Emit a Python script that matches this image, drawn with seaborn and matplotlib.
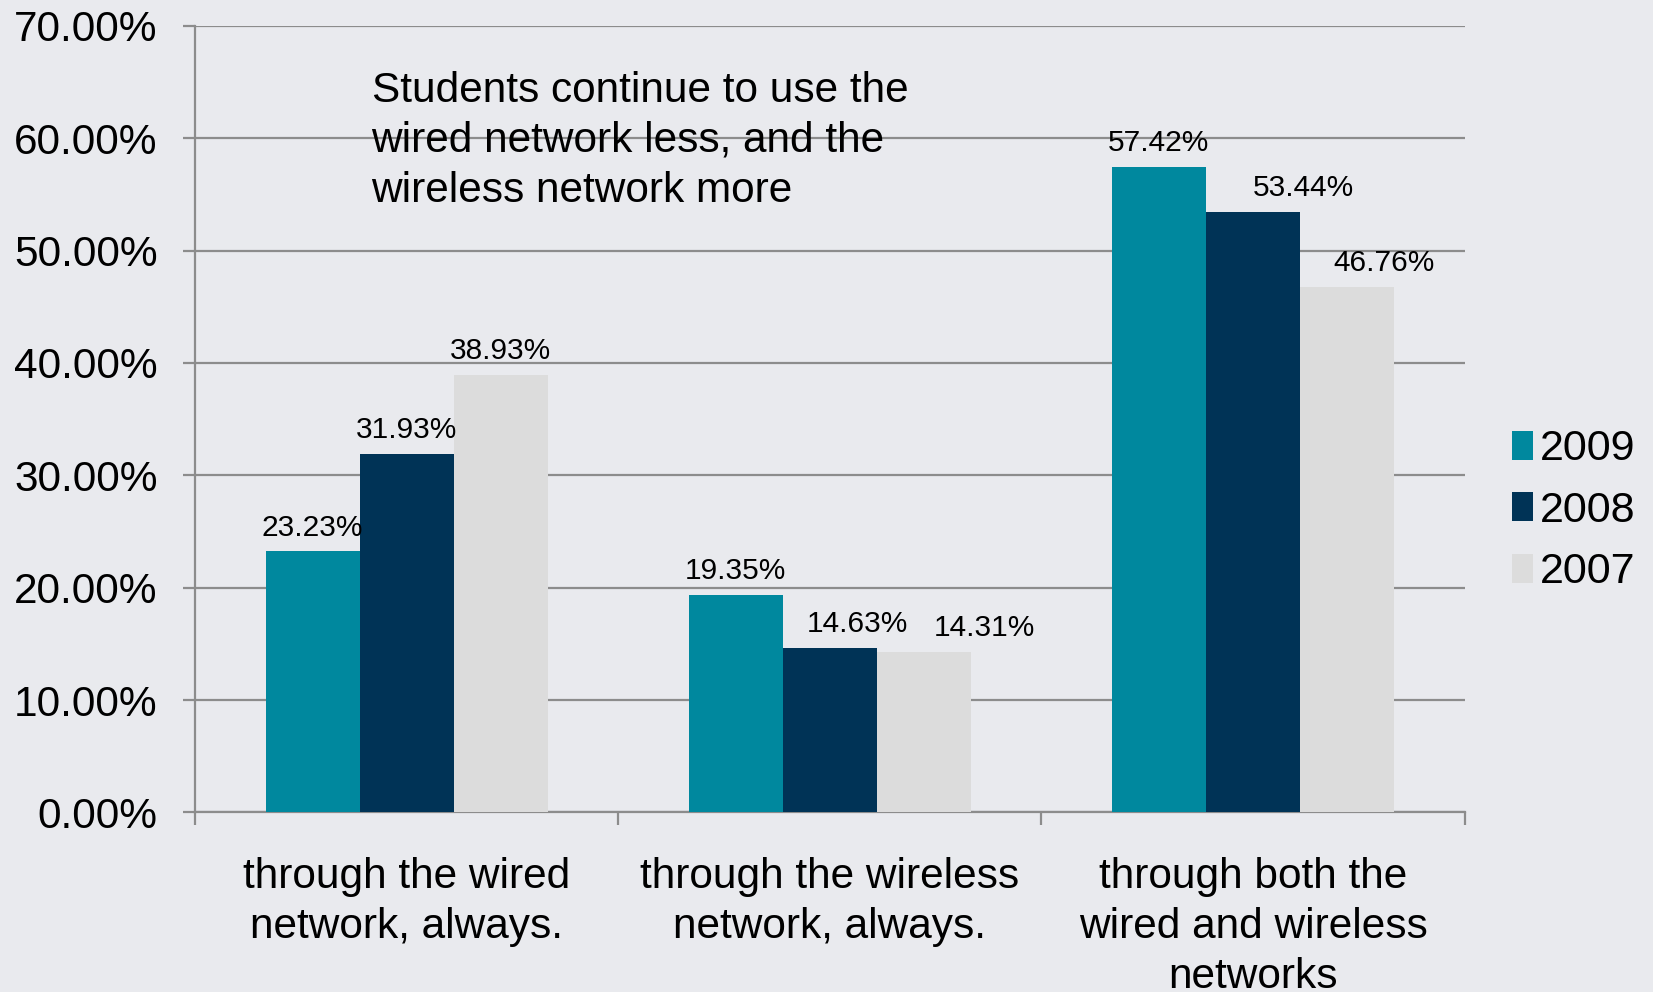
import numpy as np
import pandas as pd
import seaborn as sns
import matplotlib.pyplot as plt
from matplotlib.patches import Patch
from matplotlib.ticker import FixedLocator

categories = [
    "through the wired\nnetwork, always.",
    "through the wireless\nnetwork, always.",
    "through both the\nwired and wireless\nnetworks",
]
years = ["2009", "2008", "2007"]
values_2009 = [23.23, 19.35, 57.42]
values_2008 = [31.93, 14.63, 53.44]
values_2007 = [38.93, 14.31, 46.76]
y_ticks = [0, 10, 20, 30, 40, 50, 60, 70]
note = "Students continue to use the\nwired network less, and the\nwireless network more"

colors = {"2009": "#00889E", "2008": "#003356", "2007": "#DCDCDC"}
bg = "#E9EAEE"
grid_c = "#8C8C8C"

rows = []
for yr, vals in zip(years, [values_2009, values_2008, values_2007]):
    for cat, v in zip(categories, vals):
        rows.append({"category": cat, "year": yr, "value": v})
df = pd.DataFrame(rows)

sns.set_theme(style="white")
plt.rcParams["font.family"] = ["Liberation Sans", "DejaVu Sans"]
plt.rcParams.update({"text.color": "black", "xtick.color": grid_c,
                     "ytick.color": grid_c, "xtick.labelcolor": "black",
                     "ytick.labelcolor": "black"})

fig = plt.figure(figsize=(16.53, 9.92), dpi=100, facecolor=bg)
ax = fig.add_axes([0.118, 0.181, 0.768, 0.793])
ax.set_facecolor(bg)

sns.barplot(data=df, x="category", y="value", hue="year", hue_order=years,
            order=categories, palette=colors, width=0.667, saturation=1,
            errorbar=None, legend=False, linewidth=0, ax=ax, zorder=3)

ax.set_ylim(0, 70)
ax.set_xlim(-0.5, 2.5)
ax.yaxis.set_major_locator(FixedLocator(y_ticks))
ax.set_yticklabels([f"{t:.2f}%" for t in y_ticks], fontsize=30.5)
ax.grid(axis="y", color=grid_c, linewidth=1.6, zorder=0)
ax.tick_params(axis="y", left=True, length=9, width=1.6, color=grid_c, pad=18)

ax.set_xticks(range(len(categories)))
ax.set_xticklabels(categories, fontsize=30.5)
ax.tick_params(axis="x", which="major", bottom=True, length=0, pad=32)
ax.set_xticks([-0.5, 0.5, 1.5, 2.5], minor=True)
ax.tick_params(axis="x", which="minor", bottom=True, length=9, width=1.6,
               color=grid_c, direction="out")
for lab in ax.get_xticklabels():
    lab.set_linespacing(1.33)

for side in ["top", "right"]:
    ax.spines[side].set_visible(False)
for side in ["left", "bottom"]:
    ax.spines[side].set_color(grid_c)
    ax.spines[side].set_linewidth(1.6)
ax.set_xlabel("")
ax.set_ylabel("")

# value labels, nudged right where neighbouring labels would collide
nudges = {(1, 1): 0.065, (1, 2): 0.144, (2, 1): 0.12, (2, 2): 0.087}
for hi, (cont, vals) in enumerate(zip(ax.containers, [values_2009, values_2008, values_2007])):
    for ci, (bar, v) in enumerate(zip(cont, vals)):
        x = bar.get_x() + bar.get_width() / 2 + nudges.get((ci, hi), 0)
        ax.annotate(f"{v:.2f}%", (x, bar.get_height()), xytext=(0, 7),
                    textcoords="offset points", ha="center", va="bottom",
                    fontsize=21.5, zorder=5)

ax.text(0.139, 0.943, note, transform=ax.transAxes, ha="left", va="top",
        fontsize=30.5, linespacing=1.33, zorder=5)

handles = [Patch(facecolor=colors[y], edgecolor="none", label=y) for y in years]
fig.legend(handles=handles, loc="center left", bbox_to_anchor=(0.891, 0.485),
           frameon=False, fontsize=31, handlelength=0.5, handleheight=0.65,
           handletextpad=0.15, labelspacing=0.5)

fig.savefig("out.png", dpi=100, facecolor=bg)
